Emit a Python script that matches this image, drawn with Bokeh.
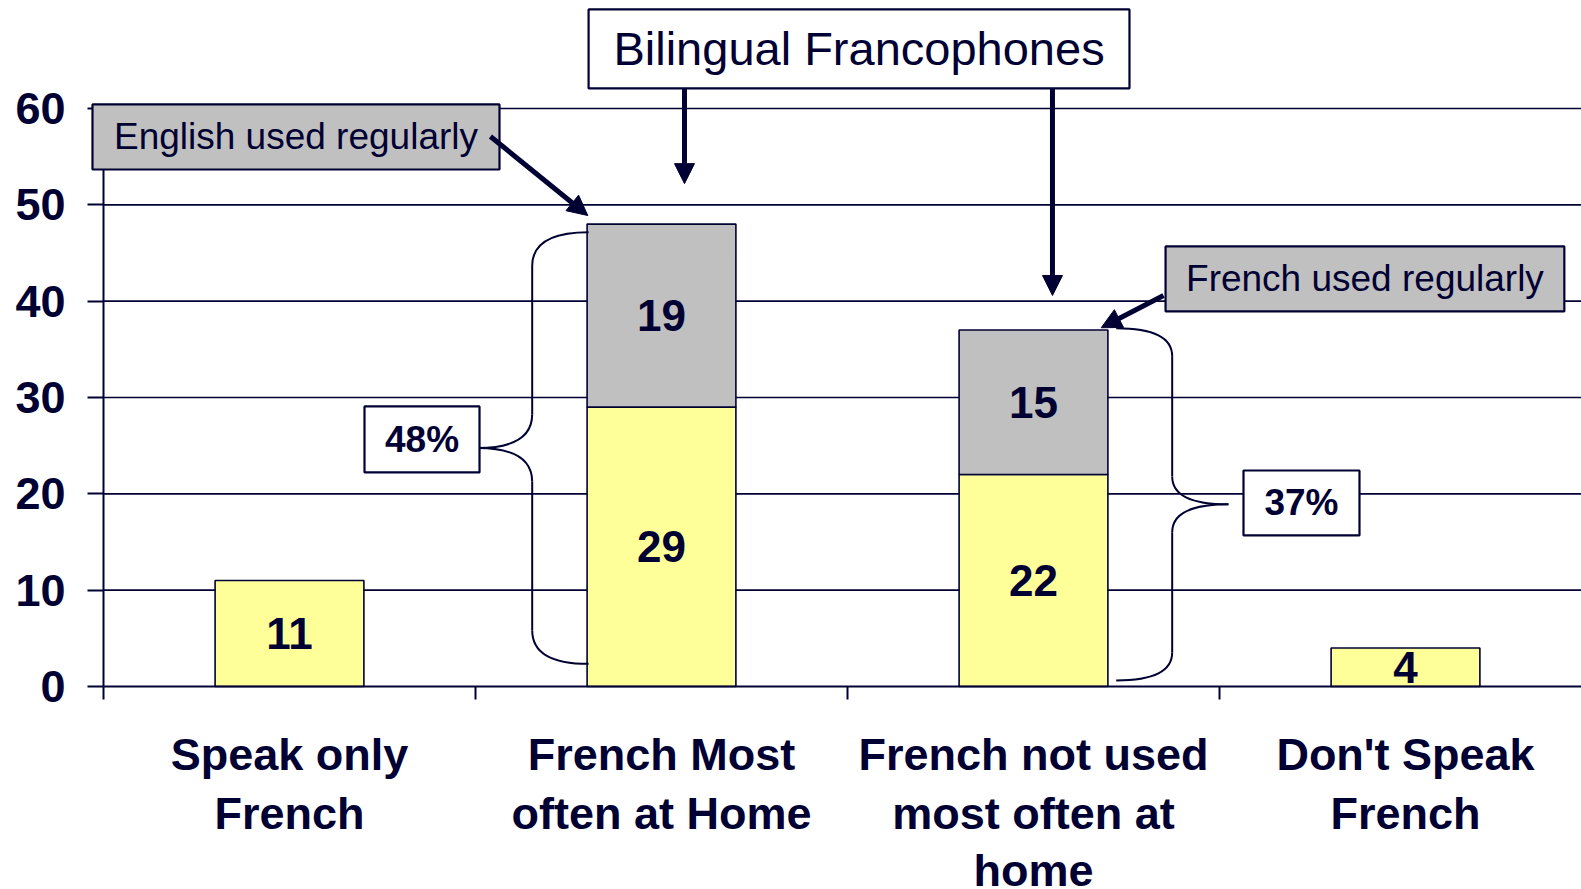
from bokeh.plotting import figure
from bokeh.models import Range1d, FixedTicker, Arrow, NormalHead, ColumnDataSource
from bokeh.embed import file_html
from bokeh.resources import INLINE
from bokeh.core.properties import value

# ---------------- data ----------------
categories = ["Speak only\nFrench",
              "French Most\noften at Home",
              "French not used\nmost often at\nhome",
              "Don't Speak\nFrench"]
french_values = [11, 29, 22, 4]      # yellow (bottom) segment
english_values = [0, 19, 15, 0]      # gray (top) segment
y_ticks = [0, 10, 20, 30, 40, 50, 60]
brace_labels = ["48%", "37%"]
box_titles = ["Bilingual Francophones", "English used regularly", "French used regularly"]

# ---------------- style ----------------
NAVY = "#000033"
YELLOW = "#FFFF99"
GRAY = "#C0C0C0"
FONT = "Liberation Sans"

W, H = 1581, 889
PX_PER_CAT = 372.0          # pixels per category
PX_PER_UNIT = 578.0 / 60.0  # pixels per y unit
AXIS_X_PX, AXIS_Y_PX = 103, 686
x_start = -AXIS_X_PX / PX_PER_CAT
x_end = (W - AXIS_X_PX) / PX_PER_CAT
y_start = -(H - AXIS_Y_PX) / PX_PER_UNIT
y_end = AXIS_Y_PX / PX_PER_UNIT

p = figure(width=W, height=H, x_range=Range1d(x_start, x_end), y_range=Range1d(y_start, y_end),
           output_backend="svg", toolbar_location=None, title=None,
           min_border_left=0, min_border_right=0, min_border_top=0, min_border_bottom=0)
p.outline_line_color = None
p.background_fill_color = "white"
p.border_fill_color = "white"
p.xgrid.visible = False
p.ygrid.visible = False

# y axis placed at x = 0 (category boundary)
ya = p.yaxis[0]
ya.fixed_location = 0
ya.ticker = FixedTicker(ticks=y_ticks)
ya.bounds = (0, 60)
ya.axis_line_color = NAVY
ya.axis_line_width = 2
ya.major_tick_line_color = NAVY
ya.major_tick_line_width = 2
ya.major_tick_out = 16
ya.major_tick_in = 0
ya.minor_tick_line_color = None
ya.major_label_standoff = 22
ya.major_label_text_font = FONT
ya.major_label_text_font_style = "bold"
ya.major_label_text_font_size = "45px"
ya.major_label_text_color = NAVY

n = len(categories)
xa = p.xaxis[0]
xa.fixed_location = 0
xa.ticker = FixedTicker(ticks=list(range(n + 1)))
xa.bounds = (0, x_end)
xa.major_label_overrides = {i: "" for i in range(n + 1)}
xa.axis_line_color = NAVY
xa.axis_line_width = 2
xa.major_tick_line_color = NAVY
xa.major_tick_line_width = 2
xa.major_tick_out = 13
xa.major_tick_in = 0
xa.minor_tick_line_color = None

# grid lines (from the y axis to the right edge)
grid_vals = [t for t in y_ticks if t > 0]
p.segment(x0=[0] * len(grid_vals), x1=[x_end] * len(grid_vals), y0=grid_vals, y1=grid_vals,
          line_color=NAVY, line_width=1.6)

# bars
xc = [i + 0.5 for i in range(n)]
tops = [a + b for a, b in zip(french_values, english_values)]
src = ColumnDataSource(dict(x=xc, fr=french_values, top=tops))
p.vbar(x="x", width=0.4, bottom=0, top="fr", source=src,
       fill_color=YELLOW, line_color=NAVY, line_width=1.6)
gx = [x for x, e in zip(xc, english_values) if e > 0]
gb = [f for f, e in zip(french_values, english_values) if e > 0]
gt = [t for t, e in zip(tops, english_values) if e > 0]
p.vbar(x=gx, width=0.4, bottom=gb, top=gt, fill_color=GRAY, line_color=NAVY, line_width=1.6)

# value labels in the middle of each segment
lx, ly, lt = [], [], []
for x, f, e in zip(xc, french_values, english_values):
    lx.append(x); ly.append(f / 2.0); lt.append(str(f))
    if e > 0:
        lx.append(x); ly.append(f + e / 2.0); lt.append(str(e))
p.text(x=lx, y=ly, text=lt, text_font=value(FONT), text_font_style="bold",
       text_font_size="44px", text_color=NAVY, text_align="center", text_baseline="middle")

# category labels below the axis (one text per line)
line_base = [-7.06, -13.16, -19.14]
cx, cy, ct = [], [], []
for x, cat in zip(xc, categories):
    for k, line in enumerate(cat.split("\n")):
        cx.append(x); cy.append(line_base[k]); ct.append(line)
p.text(x=cx, y=cy, text=ct, text_font=value(FONT), text_font_style="bold",
       text_font_size="45px", text_color=NAVY, text_align="center", text_baseline="alphabetic")

# braces
def brace(x_end_, x_v, x_tip, y_top, y_bot, r):
    y_mid = (y_top + y_bot) / 2.0
    p.quadratic(x0=[x_end_, x_v, x_tip, x_v], y0=[y_top, y_mid + r, y_mid, y_bot + r],
                x1=[x_v, x_tip, x_v, x_end_], y1=[y_top - r, y_mid, y_mid - r, y_bot],
                cx=[x_v, x_v, x_v, x_v], cy=[y_top, y_mid, y_mid, y_bot],
                line_color=NAVY, line_width=2)
    p.segment(x0=[x_v, x_v], y0=[y_top - r, y_mid - r], x1=[x_v, x_v], y1=[y_mid + r, y_bot + r],
              line_color=NAVY, line_width=2)

brace(1.304, 1.1524, 1.0054, 47.16, 2.35, 3.5)
brace(2.7223, 2.8728, 3.024, 37.2, 0.62, 2.9)

# annotation boxes: (left, right, top, bottom, fill, text, font size, weight)
boxes = [
    (1.304, 2.758, 70.28, 62.08, "white", box_titles[0], "47px", "normal"),
    (-0.0296, 1.0645, 60.42, 53.67, GRAY, box_titles[1], "37px", "normal"),
    (2.855, 3.927, 45.68, 38.93, GRAY, box_titles[2], "37px", "normal"),
    (0.7016, 1.0108, 29.07, 22.22, "white", brace_labels[0], "37px", "bold"),
    (3.0645, 3.3763, 22.42, 15.68, "white", brace_labels[1], "37px", "bold"),
]
for l, r_, t, b, fc, txt, fs, st in boxes:
    p.quad(left=[l], right=[r_], top=[t], bottom=[b], fill_color=fc, line_color=NAVY,
           line_width=2.2, level="annotation")
    p.text(x=[(l + r_) / 2.0], y=[(t + b) / 2.0], text=[txt], text_font=value(FONT),
           text_font_style=st, text_font_size=fs, text_color=NAVY,
           text_align="center", text_baseline="middle", level="annotation")

# arrows
arrows = [
    (1.0402, 57.1, 1.3019, 48.89),
    (1.5618, 62.08, 1.5618, 52.2),
    (2.551, 62.08, 2.551, 40.59),
    (2.8495, 40.59, 2.682, 37.24),
]
for xs, ys, xe, ye in arrows:
    p.add_layout(Arrow(end=NormalHead(size=20, fill_color=NAVY, line_color=NAVY, line_width=1),
                       x_start=xs, y_start=ys, x_end=xe, y_end=ye,
                       line_color=NAVY, line_width=5))

open("out.html", "w").write(file_html(p, INLINE))
